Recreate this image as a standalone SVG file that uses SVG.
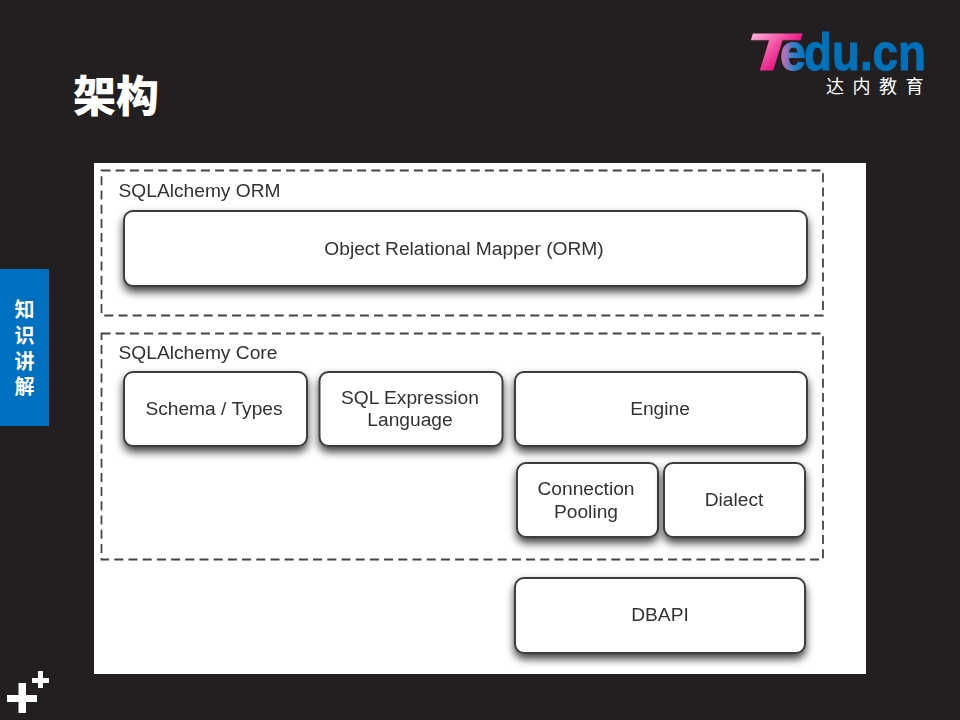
<svg xmlns="http://www.w3.org/2000/svg" width="960" height="720" viewBox="0 0 960 720">
<style>
.box{fill:#fff;stroke:#3c3c3c;stroke-width:2}
.dash{fill:none;stroke:#444;stroke-width:1.800;stroke-dasharray:9 5.200}
text{font-family:"Liberation Sans",Arial,sans-serif}
.l{font-size:19.200px;fill:#333;text-anchor:middle}
.h{font-size:19.200px;fill:#333}
.cjk{font-family:"Noto Sans CJK SC","Liberation Sans",sans-serif;fill:#fff;text-anchor:middle}
.logo{font-size:52px;font-weight:700;stroke-width:1}
</style>
<defs>
<filter id="s" x="-15%" y="-25%" width="130%" height="170%"><feDropShadow dx="0" dy="5" stdDeviation="4" flood-color="#000" flood-opacity=".75"/></filter>
<filter id="b" x="-5%" y="-5%" width="110%" height="110%"><feGaussianBlur stdDeviation=".4"/></filter>
<linearGradient id="t" x1="0" y1="0" x2="1" y2="1"><stop offset="0" stop-color="#fde6f2"/><stop offset=".3" stop-color="#f880c0"/><stop offset=".65" stop-color="#e5127f"/><stop offset="1" stop-color="#e5006e"/></linearGradient>
<linearGradient id="e" x1="0" y1="0" x2="1" y2="0"><stop offset="0" stop-color="#e86ab0"/><stop offset=".55" stop-color="#2d7fc8"/><stop offset="1" stop-color="#0072bc"/></linearGradient>
</defs>
<rect width="960" height="720" fill="#231f20"/>
<text x="73" y="112" font-size="43" font-weight="900" class="cjk" style="text-anchor:start">架构</text>
<g id="logo">
<text class="logo" x="780" y="70" fill="url(#e)" stroke="url(#e)" textLength="26" lengthAdjust="spacingAndGlyphs">e</text>
<text class="logo" x="804" y="70" fill="#0072bc" stroke="#0072bc" textLength="122" lengthAdjust="spacingAndGlyphs">du.cn</text>
<text class="logo" x="746" y="70" font-style="italic" fill="url(#t)" stroke="url(#t)" textLength="50" lengthAdjust="spacingAndGlyphs">T</text>
<text x="826" y="93" font-size="18" class="cjk" style="text-anchor:start;letter-spacing:8.500px">达内教育</text>
</g>
<g id="sidebar">
<rect x="0" y="269" width="49" height="157" fill="#0070c0"/>
<text x="24.500" y="317" font-size="20" font-weight="700" class="cjk">知</text>
<text x="24.500" y="343" font-size="20" font-weight="700" class="cjk">识</text>
<text x="24.500" y="369" font-size="20" font-weight="700" class="cjk">讲</text>
<text x="24.500" y="394" font-size="20" font-weight="700" class="cjk">解</text>
</g>
<g id="plus" fill="#fff">
<rect x="7" y="695" width="30" height="7"/><rect x="18.500" y="683" width="7.500" height="30"/>
<rect x="32" y="678" width="17" height="5"/><rect x="38" y="671" width="5" height="17"/>
</g>
<rect x="94" y="163" width="772" height="511" fill="#fff"/>
<g id="diagram" filter="url(#b)">
<g id="orm-group"><rect class="dash" x="101.500" y="170.500" width="721.500" height="145"/><text class="h" x="118.500" y="197">SQLAlchemy ORM</text></g>
<g id="core-group"><rect class="dash" x="101.500" y="333.500" width="721.500" height="226"/><text class="h" x="118.500" y="359">SQLAlchemy Core</text></g>
<g id="orm"><rect class="box" filter="url(#s)" x="124" y="211" width="683" height="75" rx="9"/><text class="l" x="464" y="255">Object Relational Mapper (ORM)</text></g>
<g id="schema"><rect class="box" filter="url(#s)" x="124" y="372" width="183" height="74" rx="9"/><text class="l" x="214" y="415">Schema / Types</text></g>
<g id="sql"><rect class="box" filter="url(#s)" x="319.500" y="372" width="183" height="74" rx="9"/><text class="l" x="410" y="404">SQL Expression</text><text class="l" x="410" y="426">Language</text></g>
<g id="engine"><rect class="box" filter="url(#s)" x="515" y="372" width="292" height="74" rx="9"/><text class="l" x="660" y="415">Engine</text></g>
<g id="pool"><rect class="box" filter="url(#s)" x="517" y="463" width="141" height="74" rx="9"/><text class="l" x="586" y="495">Connection</text><text class="l" x="586" y="518">Pooling</text></g>
<g id="dialect"><rect class="box" filter="url(#s)" x="664" y="463" width="141" height="74" rx="9"/><text class="l" x="734" y="506">Dialect</text></g>
<g id="dbapi"><rect class="box" filter="url(#s)" x="515" y="578" width="290" height="75" rx="9"/><text class="l" x="660" y="621">DBAPI</text></g>
</g>
<g id="connectors"/>
</svg>
